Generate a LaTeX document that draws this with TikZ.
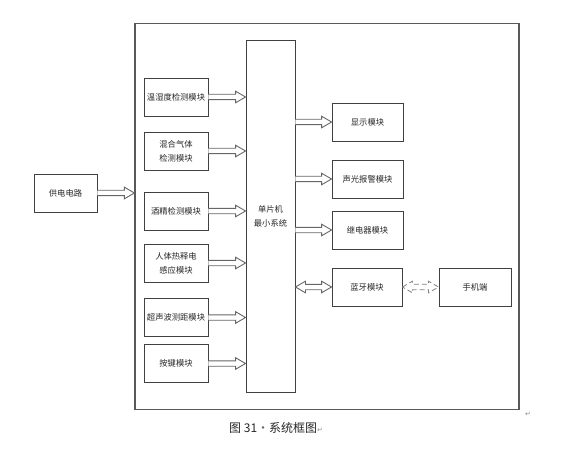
\documentclass[tikz,border=0pt]{standalone}
\usepackage{fontspec}
\setmainfont{Noto Sans CJK SC}
\newfontfamily\dejavu{DejaVu Sans}
\usetikzlibrary{calc}
\tikzset{
  box/.style={draw=black!75, line width=0.9pt, rectangle, inner sep=0pt, align=center,
    font=\fontsize{8.3}{14}\selectfont, text=black!85},
  lbox/.style={box, minimum width=64pt, minimum height=38pt},
  rbox/.style={box, minimum width=71pt, minimum height=38pt},
  conn/.style={draw=black!60, line width=0.9pt, fill=white, line join=miter},
  dconn/.style={draw=black!50, line width=0.8pt, dash pattern=on 5pt off 3pt},
}
\newcommand\blockarrow[3][]{%
  \draw[conn,#1] let \p1=(#2), \p2=(#3) in
    (\x1,\y1+2.7pt) -- (\x2-10pt,\y1+2.7pt) -- (\x2-10pt,\y1+5.8pt) -- (\x2,\y1)
    -- (\x2-10pt,\y1-5.8pt) -- (\x2-10pt,\y1-2.7pt) -- (\x1,\y1-2.7pt);}
\newcommand\dblarrow[3][]{%
  \draw[conn,#1] let \p1=(#2), \p2=(#3) in
    (\x1,\y1) -- (\x1+10pt,\y1+5.8pt) -- (\x1+10pt,\y1+2.7pt) -- (\x2-10pt,\y1+2.7pt)
    -- (\x2-10pt,\y1+5.8pt) -- (\x2,\y1) -- (\x2-10pt,\y1-5.8pt) -- (\x2-10pt,\y1-2.7pt)
    -- (\x1+10pt,\y1-2.7pt) -- (\x1+10pt,\y1-5.8pt) -- cycle;}
\begin{document}
\begin{tikzpicture}[x=1pt,y=-1pt]
\useasboundingbox (0,0) rectangle (561,454);
% outer frame
\node[draw=black!65, line width=1.2pt, minimum width=384pt, minimum height=386pt, inner sep=0pt] (frame) at (327,216.7) {};
% MCU
\node[box, minimum width=49pt, minimum height=352pt] (mcu) at (270.5,216) {单片机\\最小系统};
% left modules
\node[lbox] (th)  at (176,97)    {温湿度检测模块};
\node[lbox] (gas) at (176,151)   {混合气体\\检测模块};
\node[lbox] (alc) at (176,211)   {酒精检测模块};
\node[lbox] (pir) at (176,263)   {人体热释电\\感应模块};
\node[lbox] (us)  at (176,317.5) {超声波测距模块};
\node[lbox] (key) at (176,363.5) {按键模块};
% right modules
\node[rbox] (disp) at (367.5,122) {显示模块};
\node[rbox] (alm)  at (367.5,179) {声光报警模块};
\node[rbox] (rel)  at (367.5,230) {继电器模块};
\node[rbox, minimum width=70pt] (bt) at (367,287) {蓝牙模块};
\node[box, minimum width=72pt, minimum height=38pt] (phone) at (475,287) {手机端};
% power
\node[box, minimum width=63pt, minimum height=38pt] (pwr) at (65.5,193) {供电电路};
% arrows
\blockarrow{pwr.east}{frame.west |- pwr.east}
\foreach \m in {th,gas,alc,pir,us,key}{\blockarrow{\m.east}{mcu.west |- \m.east}}
\foreach \m in {disp,alm,rel}{\blockarrow{mcu.east |- \m.west}{\m.west}}
\dblarrow{mcu.east |- bt.west}{bt.west}
\dblarrow[dconn]{bt.east}{phone.west}
% caption and marks
\node[anchor=west, inner sep=0pt, font=\fontsize{12}{14}\selectfont, text=black!85] (cap) at (229,428) {图 31{\color{black!60}·}系统框图{\dejavu\fontsize{7}{8}\selectfont\color{black!45}↵}};
\node[inner sep=0pt, font=\dejavu\fontsize{7}{8}\selectfont, text=black!45] (mark) at (528,414) {↵};
\end{tikzpicture}
\end{document}
